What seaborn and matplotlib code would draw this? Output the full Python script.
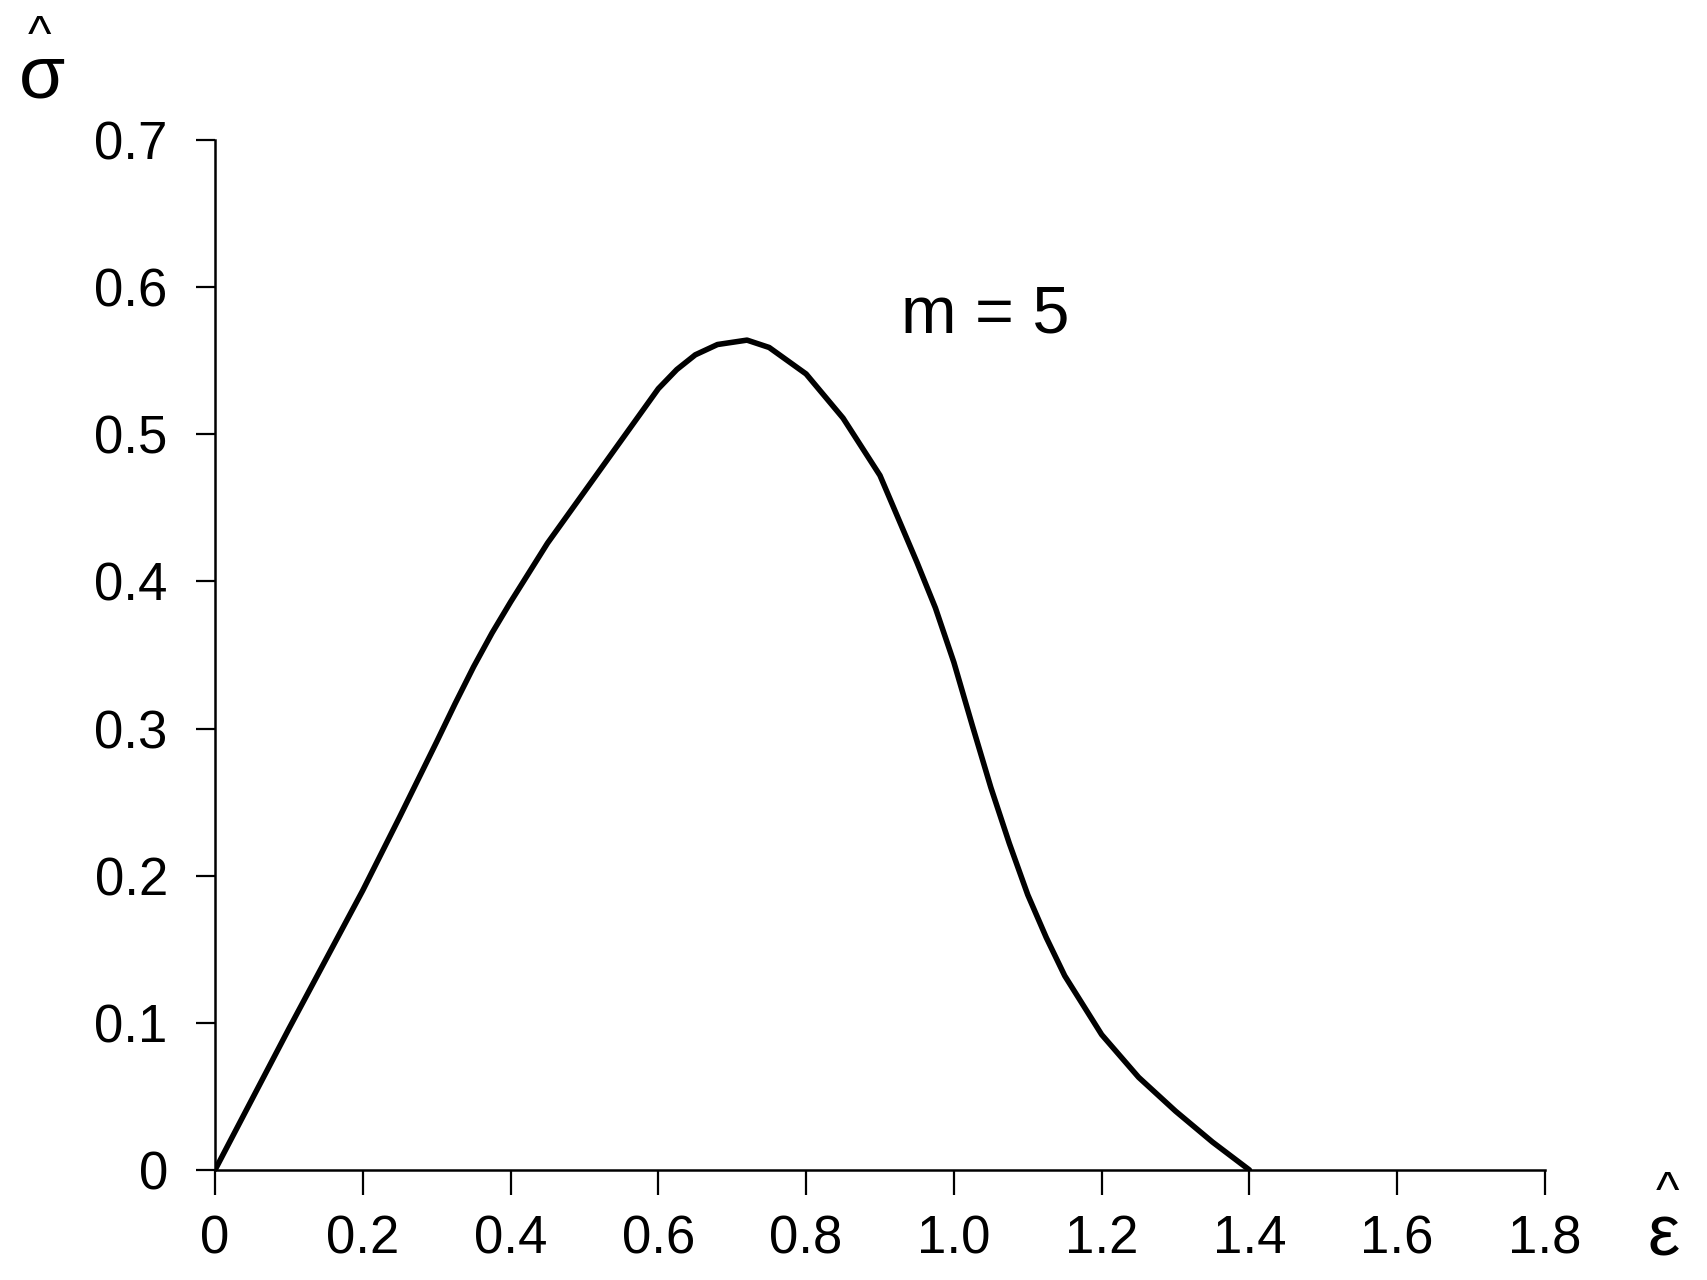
import matplotlib
matplotlib.use("Agg")
import matplotlib.pyplot as plt
import seaborn as sns
import pandas as pd

# Data
strain = [0.0, 0.05, 0.10, 0.15, 0.20, 0.25, 0.30, 0.325, 0.35, 0.375, 0.40, 0.45, 0.50, 0.55,
          0.60, 0.625, 0.65, 0.68, 0.72, 0.75, 0.80, 0.85, 0.90, 0.95, 0.975, 1.00, 1.025, 1.05,
          1.075, 1.10, 1.125, 1.15, 1.20, 1.25, 1.30, 1.35, 1.40]
stress = [0.0, 0.048, 0.096, 0.143, 0.190, 0.240, 0.291, 0.317, 0.342, 0.365, 0.386, 0.426, 0.461, 0.496,
          0.531, 0.544, 0.554, 0.561, 0.564, 0.559, 0.541, 0.511, 0.472, 0.413, 0.382, 0.345, 0.302, 0.260,
          0.222, 0.187, 0.158, 0.132, 0.092, 0.063, 0.040, 0.019, 0.0]
x_ticks = [0, 0.2, 0.4, 0.6, 0.8, 1.0, 1.2, 1.4, 1.6, 1.8]
x_tick_labels = ["0", "0.2", "0.4", "0.6", "0.8", "1.0", "1.2", "1.4", "1.6", "1.8"]
y_ticks = [0, 0.1, 0.2, 0.3, 0.4, 0.5, 0.6, 0.7]
y_tick_labels = ["0", "0.1", "0.2", "0.3", "0.4", "0.5", "0.6", "0.7"]
annotation = "m = 5"

sns.set_style("ticks")
plt.rcParams['font.family'] = ['Liberation Sans', 'DejaVu Sans']

W, H = 1707, 1280
fig = plt.figure(figsize=(W / 100, H / 100), dpi=100)
ax = fig.add_axes([215 / W, 1 - 1170 / H, (1545 - 215) / W, (1170 - 140) / H])

df = pd.DataFrame({"strain": strain, "stress": stress})
sns.lineplot(data=df, x="strain", y="stress", color="black", linewidth=4.0,
             sort=False, estimator=None, ax=ax)
ax.lines[0].set_solid_joinstyle("round")

ax.set_xlim(0, 1.8)
ax.set_ylim(0, 0.7)
ax.set_xticks(x_ticks)
ax.set_xticklabels(x_tick_labels)
ax.set_yticks(y_ticks)
ax.set_yticklabels(y_tick_labels)
ax.set_xlabel("")
ax.set_ylabel("")

for s in ["top", "right"]:
    ax.spines[s].set_visible(False)
for s in ["left", "bottom"]:
    ax.spines[s].set_linewidth(1.8)
    ax.spines[s].set_color("black")

ax.tick_params(axis="x", direction="out", length=18, width=1.6, pad=14,
               labelsize=38, colors="black")
ax.tick_params(axis="y", direction="out", length=14, width=1.6, pad=20,
               labelsize=38, colors="black")

ax.text(1.042, 0.569, annotation, ha="center", va="baseline", fontsize=48,
        color="black")

# axis symbols (sigma-hat and epsilon-hat)
fig.text(42 / W, 1 - 97 / H, "σ", ha="center", va="baseline", fontsize=54, color="black")
fig.text(40 / W, 1 - 50 / H, "^", ha="center", va="baseline", fontsize=36, color="black")
fig.text(1664 / W, 1 - 1256 / H, "ε", ha="center", va="baseline", fontsize=52, color="black")
fig.text(1667 / W, 1 - 1206 / H, "^", ha="center", va="baseline", fontsize=36, color="black")

fig.savefig("out.png", dpi=100, facecolor="white")
